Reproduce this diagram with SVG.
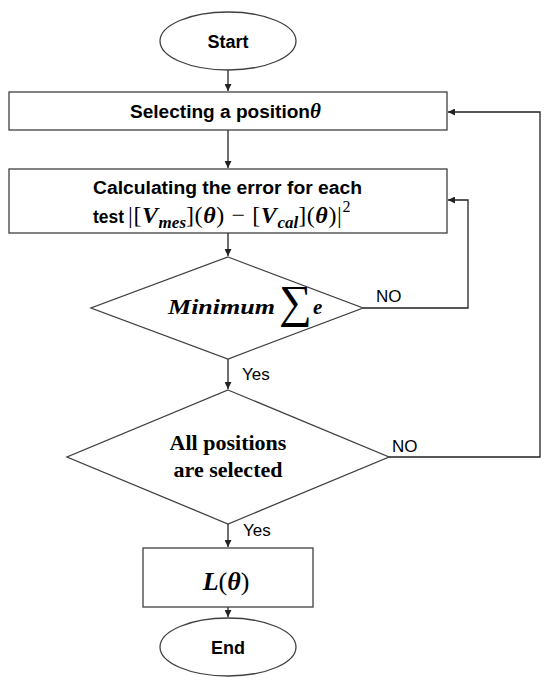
<svg xmlns="http://www.w3.org/2000/svg" width="550" height="682" viewBox="0 0 550 682">
<style>
.shape{fill:#fff;stroke:#404040;stroke-width:1.3}
.conn{fill:none;stroke:#222;stroke-width:1.3}
.sans{font-family:"Liberation Sans","DejaVu Sans",sans-serif;font-weight:bold;fill:#000}
.lbl{font-family:"Liberation Sans","DejaVu Sans",sans-serif;font-size:17px;fill:#000}
.serif{font-family:"Liberation Serif","DejaVu Serif",serif;fill:#000}
.mi{font-style:italic;font-weight:bold}
</style>
<defs>
<marker id="ah" viewBox="0 0 10 10" refX="10" refY="5" markerWidth="7" markerHeight="7" markerUnits="userSpaceOnUse" orient="auto">
<path d="M0,0 L10,5 L0,10 z" fill="#222"/>
</marker>
</defs>
<rect width="550" height="682" fill="#fff"/>
<g id="connectors">
<path class="conn" d="M228,70 V91" marker-end="url(#ah)"/>
<path class="conn" d="M228,130 V168" marker-end="url(#ah)"/>
<path class="conn" d="M228,233 V256" marker-end="url(#ah)"/>
<path class="conn" d="M228,359 V389" marker-end="url(#ah)"/>
<path class="conn" d="M228,524 V547" marker-end="url(#ah)"/>
<path class="conn" d="M228,607 V617" marker-end="url(#ah)"/>
<path class="conn" d="M363,308 H468 V200 H448" marker-end="url(#ah)"/>
<path class="conn" d="M389,457 H540 V112 H448" marker-end="url(#ah)"/>
<text class="lbl" x="376" y="302">NO</text>
<text class="lbl" x="242" y="380">Yes</text>
<text class="lbl" x="392" y="452">NO</text>
<text class="lbl" x="243" y="536">Yes</text>
</g>
<g id="start">
<ellipse class="shape" cx="228" cy="41" rx="68" ry="29"/>
<text class="sans" x="228" y="48" font-size="18" text-anchor="middle">Start</text>
</g>
<g id="select">
<rect class="shape" x="9" y="92" width="438" height="38"/>
<text x="130" y="118" font-size="18"><tspan class="sans" textLength="180" lengthAdjust="spacingAndGlyphs">Selecting a position</tspan><tspan class="serif mi" font-size="21">θ</tspan></text>
</g>
<g id="calc">
<rect class="shape" x="9" y="169" width="438" height="64"/>
<text class="sans" x="93" y="194" font-size="18" textLength="269" lengthAdjust="spacingAndGlyphs">Calculating the error for each</text>
<text x="93" y="223" font-size="24"><tspan class="sans" font-size="18" textLength="31" lengthAdjust="spacingAndGlyphs">test</tspan><tspan class="serif" x="128" letter-spacing="0.6">|[</tspan><tspan class="serif mi" letter-spacing="0.6">V</tspan><tspan class="serif mi" font-size="17" dy="5">mes</tspan><tspan class="serif" dy="-5" letter-spacing="0.6">](</tspan><tspan class="serif mi" letter-spacing="0.6">θ</tspan><tspan class="serif" letter-spacing="0.6">) − [</tspan><tspan class="serif mi" letter-spacing="0.6">V</tspan><tspan class="serif mi" font-size="17" dy="5">cal</tspan><tspan class="serif" dy="-5" letter-spacing="0.6">](</tspan><tspan class="serif mi" letter-spacing="0.6">θ</tspan><tspan class="serif" letter-spacing="0.6">)|</tspan><tspan class="serif" font-size="16" dy="-11">2</tspan></text>
</g>
<g id="minimum">
<polygon class="shape" points="228,257 363,308 228,359 91,308"/>
<text x="168" y="314" font-size="21"><tspan class="serif mi" textLength="107" lengthAdjust="spacingAndGlyphs">Minimum</tspan><tspan class="serif" x="279" y="317" font-size="46">∑</tspan><tspan class="serif mi" x="313" y="314">e</tspan></text>
</g>
<g id="allpos">
<polygon class="shape" points="228,390 389,457 228,524 67,457"/>
<text class="serif" font-weight="bold" x="228" y="450" font-size="22" text-anchor="middle">All positions</text>
<text class="serif" font-weight="bold" x="228" y="477" font-size="22" text-anchor="middle">are selected</text>
</g>
<g id="result">
<rect class="shape" x="143" y="548" width="170" height="59"/>
<text x="226" y="590" font-size="26" text-anchor="middle"><tspan class="serif mi">L</tspan><tspan class="serif">(</tspan><tspan class="serif mi">θ</tspan><tspan class="serif">)</tspan></text>
</g>
<g id="end">
<ellipse class="shape" cx="228" cy="647" rx="68" ry="29"/>
<text class="sans" x="228" y="654" font-size="18" text-anchor="middle">End</text>
</g>
</svg>
